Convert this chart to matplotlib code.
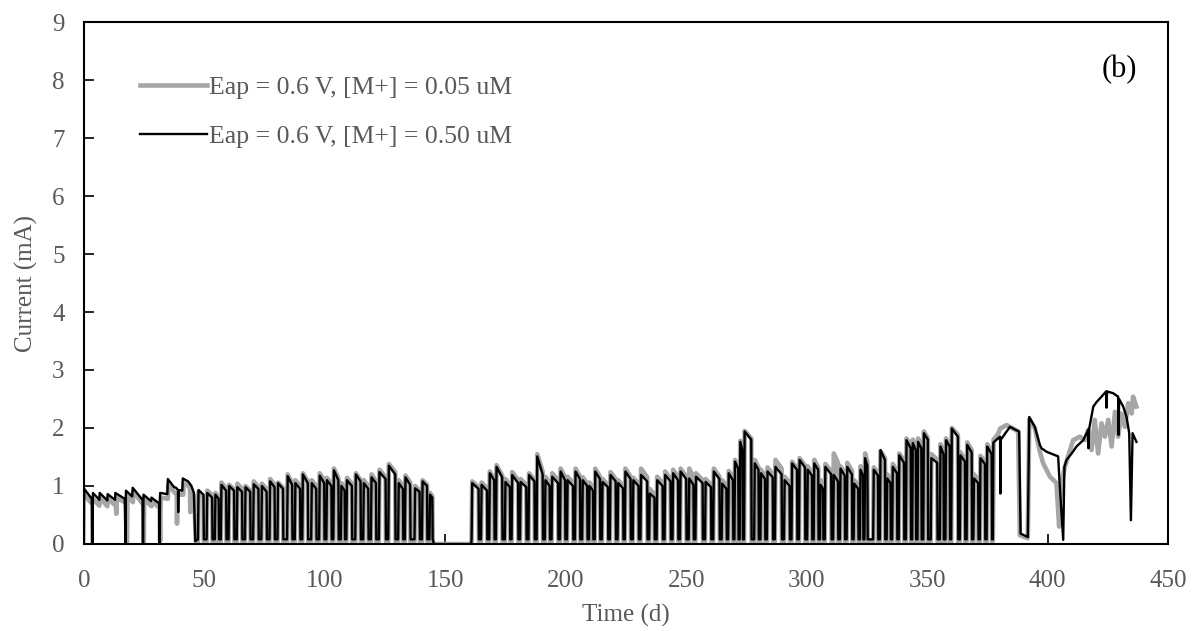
import matplotlib
matplotlib.use("Agg")
import matplotlib.pyplot as plt
from matplotlib.lines import Line2D

# ---- data (time in days, current in mA) ----

# continuous start-up period, explicit points
black_start_t = [0.0, 0.1, 3.2, 3.3, 3.6, 3.7, 6.4, 6.5, 9.7, 9.8, 12.9, 13.0, 16.9, 17.2, 17.4,
                 20.0, 20.2, 24.3, 24.5, 24.7, 27.8, 28.0, 31.2, 31.4, 31.6, 34.6, 34.8, 37.4,
                 38.2, 39.0, 39.1, 39.3, 40.8, 41.0, 43.2, 44.6, 45.6, 46.2]
black_start_v = [0.00, 0.95, 0.78, 0.00, 0.00, 0.88, 0.76, 0.88, 0.75, 0.86, 0.76, 0.88, 0.78, 0.00, 0.92,
                 0.82, 0.97, 0.76, 0.00, 0.85, 0.74, 0.80, 0.70, 0.00, 0.88, 0.86, 1.12, 0.98,
                 0.97, 0.93, 0.55, 0.93, 0.92, 1.13, 1.08, 1.00, 0.88, 0.05]
gray_start_t = [0.0, 3.2, 3.6, 6.4, 6.6, 9.7, 9.9, 13.2, 13.4, 13.6, 17.6, 17.8, 18.1, 20.3, 20.5,
                24.6, 24.8, 25.0, 28.0, 28.2, 31.4, 31.6, 31.8, 34.8, 35.0, 37.8, 38.5, 38.6,
                38.8, 41.2, 41.4, 43.5, 44.0, 44.1, 44.3, 45.8, 46.4]
gray_start_v = [0.85, 0.70, 0.78, 0.66, 0.80, 0.65, 0.78, 0.66, 0.52, 0.80, 0.70, 0.00, 0.85, 0.72, 0.90,
                0.68, 0.00, 0.78, 0.65, 0.74, 0.62, 0.05, 0.80, 0.78, 1.02, 0.88, 0.86, 0.35,
                0.85, 0.85, 1.05, 1.00, 0.95, 0.55, 0.95, 0.82, 0.03]

# on/off cycling period: pulse switch-on and switch-off times
pulse_on = [47.3, 50.9, 54.3, 56.8, 60.0, 63.4, 66.8, 70.2, 73.6, 77.0, 80.3, 84.3, 87.5, 90.6,
            94.3, 97.6, 100.6, 103.5, 106.6, 108.9, 112.6, 115.9, 119.1, 122.4, 126.3, 130.4,
            133.2, 137.2, 140.3, 143.4,
            160.9, 164.8, 168.2, 171.0, 174.7, 177.5, 181.0, 184.5, 187.9, 191.3, 194.1, 197.6,
            200.5, 203.8, 206.8, 209.6, 212.0, 215.0, 218.3, 221.5, 224.5, 227.8, 231.0, 234.6,
            237.7, 241.0, 244.3, 247.4, 251.0, 253.8, 257.8, 261.2, 264.7, 267.4, 270.0, 272.2,
            274.0, 278.2, 280.8, 283.5, 286.8, 290.6, 293.7, 296.8, 300.2, 302.9, 305.5, 307.5,
            311.0, 313.8, 316.6, 319.5, 322.1, 324.0, 327.6, 330.4, 333.2, 335.5, 338.2, 341.2,
            343.8, 346.0, 348.4, 351.5, 355.3, 357.6, 360.0, 363.6, 366.4, 369.2, 371.9, 374.7]
pulse_off = [49.6, 53.2, 55.9, 59.0, 62.3, 65.6, 69.0, 72.4, 75.8, 79.1, 82.6, 86.4, 89.7, 92.9,
             96.4, 99.7, 102.7, 105.6, 108.2, 111.2, 114.8, 118.0, 121.2, 125.2, 129.2, 132.4,
             135.4, 139.3, 142.4, 144.6,
             163.8, 167.3, 170.3, 173.6, 176.8, 180.2, 183.6, 187.0, 190.4, 193.3, 196.8, 199.7,
             203.0, 205.9, 208.9, 211.3, 214.2, 217.5, 220.7, 223.8, 226.9, 230.2, 233.8, 236.8,
             240.2, 243.5, 246.6, 250.0, 253.0, 256.8, 260.3, 263.8, 266.7, 269.4, 271.6, 273.4,
             277.0, 280.0, 282.7, 285.9, 289.6, 292.9, 296.0, 299.3, 302.2, 304.8, 306.8, 310.2,
             313.0, 315.8, 318.8, 321.4, 323.4, 325.2, 329.6, 332.5, 334.8, 337.5, 340.4, 343.2,
             345.3, 347.6, 350.3, 354.2, 356.8, 359.4, 362.8, 365.7, 368.5, 371.2, 374.0, 376.8]

black_peak = [0.93, 0.88, 0.85, 1.02, 1.00, 0.98, 0.98, 1.03, 1.00, 1.08, 1.05, 1.17, 1.05, 1.20,
              1.05, 1.18, 1.10, 1.27, 1.00, 1.10, 1.20, 1.05, 1.15, 1.24, 1.35, 1.05, 1.15, 0.96,
              1.08, 0.85,
              1.05, 1.02, 1.22, 1.33, 1.07, 1.19, 1.07, 1.19, 1.51, 1.10, 1.16, 1.25, 1.10, 1.25,
              1.10, 1.00, 1.25, 1.07, 1.19, 1.05, 1.25, 1.10, 1.19, 0.87, 1.10, 1.19, 1.22, 1.25,
              1.13, 1.16, 1.07, 1.25, 1.04, 1.22, 1.42, 1.76, 1.94, 1.39, 1.22, 1.25, 1.33, 1.10,
              1.39, 1.45, 1.28, 1.39, 1.02, 1.33, 1.19, 1.30, 1.33, 1.04, 1.28, 1.48, 1.28, 1.62,
              1.13, 1.33, 1.53, 1.79, 1.74, 1.76, 1.91, 1.48, 1.68, 1.79, 1.99, 1.53, 1.71, 1.13,
              1.48, 1.68]
black_end = [0.85, 0.80, 0.78, 0.92, 0.92, 0.90, 0.90, 0.95, 0.90, 0.98, 0.95, 1.02, 0.95, 1.05,
             0.95, 1.05, 1.00, 1.10, 0.92, 1.00, 1.08, 0.95, 1.05, 1.12, 1.20, 0.95, 1.02, 0.90,
             1.00, 0.80,
             0.95, 0.92, 1.10, 1.15, 0.98, 1.05, 0.98, 1.08, 1.20, 1.00, 1.05, 1.10, 1.00, 1.12,
             1.00, 0.92, 1.12, 0.98, 1.08, 0.96, 1.12, 1.00, 1.08, 0.80, 1.00, 1.08, 1.10, 1.12,
             1.02, 1.05, 0.98, 1.12, 0.95, 1.10, 1.30, 1.60, 1.80, 1.28, 1.12, 1.15, 1.20, 1.00,
             1.28, 1.32, 1.18, 1.28, 0.95, 1.20, 1.08, 1.18, 1.20, 0.95, 1.18, 1.35, 1.18, 1.45,
             1.05, 1.22, 1.40, 1.65, 1.62, 1.65, 1.80, 1.40, 1.55, 1.68, 1.85, 1.42, 1.58, 1.05,
             1.38, 1.55]
gray_peak = [0.90, 0.92, 0.88, 1.06, 1.02, 1.04, 1.00, 1.08, 1.04, 1.12, 1.06, 1.20, 1.10, 1.22,
             1.10, 1.22, 1.14, 1.30, 1.05, 1.14, 1.22, 1.10, 1.20, 1.28, 1.38, 1.10, 1.18, 1.00,
             1.10, 0.88,
             1.08, 1.06, 1.25, 1.36, 1.12, 1.24, 1.12, 1.22, 1.55, 1.16, 1.22, 1.30, 1.16, 1.30,
             1.15, 1.06, 1.30, 1.12, 1.24, 1.10, 1.30, 1.14, 1.30, 0.95, 1.16, 1.25, 1.28, 1.30,
             1.30, 1.22, 1.12, 1.30, 1.10, 1.26, 1.45, 1.78, 1.95, 1.45, 1.28, 1.32, 1.45, 1.16,
             1.42, 1.48, 1.34, 1.45, 1.10, 1.38, 1.56, 1.34, 1.40, 1.10, 1.34, 1.56, 1.32, 1.60,
             1.20, 1.38, 1.56, 1.82, 1.80, 1.82, 1.94, 1.55, 1.72, 1.82, 2.00, 1.58, 1.75, 1.20,
             1.52, 1.72]
gray_end = [0.82, 0.84, 0.80, 0.95, 0.94, 0.95, 0.92, 0.98, 0.94, 1.02, 0.97, 1.05, 1.00, 1.08,
            1.00, 1.10, 1.04, 1.14, 0.96, 1.04, 1.10, 1.00, 1.08, 1.15, 1.24, 1.00, 1.06, 0.92,
            1.02, 0.82,
            0.98, 0.96, 1.12, 1.18, 1.02, 1.10, 1.02, 1.10, 1.25, 1.05, 1.10, 1.15, 1.05, 1.16,
            1.04, 0.96, 1.16, 1.02, 1.12, 1.00, 1.16, 1.04, 1.15, 0.85, 1.05, 1.12, 1.15, 1.16,
            1.15, 1.10, 1.02, 1.16, 1.00, 1.14, 1.32, 1.62, 1.82, 1.32, 1.16, 1.20, 1.30, 1.05,
            1.30, 1.35, 1.22, 1.32, 1.00, 1.25, 1.40, 1.22, 1.26, 1.00, 1.22, 1.42, 1.22, 1.48,
            1.10, 1.25, 1.44, 1.70, 1.68, 1.70, 1.82, 1.45, 1.60, 1.70, 1.88, 1.46, 1.62, 1.10,
            1.42, 1.60]

# final period, explicit points
black_end_t = [377.3, 377.5, 379.5, 380.3, 380.4, 380.6, 382.0, 384.4, 387.1, 388.2, 388.8, 391.8,
               392.4, 394.7, 396.8, 397.5, 399.6, 404.4, 405.0, 406.5, 407.0, 407.9, 410.0, 412.0,
               414.8, 416.9, 417.0, 417.2, 419.0, 420.4, 422.4, 424.3, 424.5, 424.7, 427.2, 429.3,
               429.5, 429.7, 431.4, 432.8, 433.9, 434.6, 435.3, 436.9]
black_end_v = [0.08, 1.75, 1.82, 1.85, 0.87, 1.80, 1.88, 2.02, 1.96, 1.94, 0.18, 0.12,
               2.19, 2.02, 1.71, 1.65, 1.59, 1.51, 1.05, 0.07, 1.33, 1.45, 1.56, 1.68,
               1.79, 1.97, 1.65, 1.97, 2.37, 2.45, 2.54, 2.63, 2.35, 2.63, 2.60, 2.54,
               1.88, 2.50, 2.37, 2.19, 1.91, 0.41, 1.91, 1.76]
gray_end_t = [377.3, 377.6, 379.5, 380.3, 383.0, 385.7, 387.8, 388.5, 391.8, 392.4, 394.7, 396.8,
              398.2, 401.0, 403.7, 404.8, 405.6, 407.2, 410.6, 413.4, 415.5, 416.9, 418.3, 419.6,
              421.0, 422.4, 423.8, 425.2, 426.6, 428.0, 429.3, 430.7, 432.1, 433.5, 434.9, 435.5,
              436.9]
gray_end_v = [0.05, 1.80, 1.90, 1.99, 2.05, 1.99, 1.94, 0.15, 0.10, 2.15, 2.00, 1.59,
              1.39, 1.16, 1.05, 0.30, 1.00, 1.33, 1.79, 1.85, 1.79, 1.97, 1.62, 2.14,
              1.56, 2.08, 1.85, 2.14, 1.68, 2.28, 1.85, 2.25, 2.02, 2.43, 2.25, 2.54,
              2.37]

# idle current between pulses and during the shutdown (~145-161 d)
black_low, gray_low = 0.08, 0.04
black_idle, gray_idle = -0.02, 0.0


def build_series(start_t, start_v, peaks, ends, low, idle, end_t, end_v):
    t = list(start_t)
    v = list(start_v)
    for i, (on, off) in enumerate(zip(pulse_on, pulse_off)):
        t += [on, on + 0.25, off, off + 0.15]
        v += [low, peaks[i], ends[i], low]
        if i + 1 < len(pulse_on) and pulse_on[i + 1] - off > 5:
            # long idle stretch
            t += [off + 0.8, pulse_on[i + 1] - 0.3]
            v += [idle, idle]
    t += end_t
    v += end_v
    return t, v


gray_t, gray_v = build_series(gray_start_t, gray_start_v, gray_peak, gray_end,
                              gray_low, gray_idle, gray_end_t, gray_end_v)
black_t, black_v = build_series(black_start_t, black_start_v, black_peak, black_end,
                                black_low, black_idle, black_end_t, black_end_v)

# ---- plot ----
plt.rcParams['font.family'] = ['Liberation Serif', 'DejaVu Serif']
txt = '#595959'

fig = plt.figure(figsize=(11.95, 6.31), dpi=100)
ax = fig.add_axes([0.0703, 0.1379, 0.9071, 0.8272])

ax.plot(gray_t, gray_v, color='#a6a6a6', lw=3.3)
ax.plot(black_t, black_v, color='black', lw=1.7)

ax.set_xlim(0, 450)
ax.set_ylim(0, 9)
ax.set_xticks(range(0, 451, 50))
ax.set_yticks(range(0, 10))
ax.tick_params(axis='both', direction='in', length=7, width=1.2, colors='black',
               labelcolor=txt, labelsize=18)
ax.tick_params(axis='x', pad=19)
ax.tick_params(axis='y', pad=14)
for s in ax.spines.values():
    s.set_linewidth(1.5)
    s.set_color('black')

ax.set_xlabel('Time (d)', fontsize=18, color=txt, labelpad=8)
ax.set_ylabel('Current (mA)', fontsize=18, color=txt, labelpad=10)

handles = [Line2D([], [], color='#a6a6a6', lw=3.3),
           Line2D([], [], color='black', lw=1.7)]
labels = ['Eap = 0.6 V, [M+] = 0.05 uM', 'Eap = 0.6 V, [M+] = 0.50 uM']
leg = fig.legend(handles, labels, loc='upper left', bbox_to_anchor=(0.117, 0.879),
                 frameon=False, fontsize=18.5, handlelength=2.6, handletextpad=0.1,
                 labelspacing=0.98, borderpad=0, borderaxespad=0)
for t in leg.get_texts():
    t.set_color(txt)

fig.text(0.937, 0.889, '(b)', fontsize=22, color='black', ha='center', va='center')

fig.savefig('out.png', dpi=100)
